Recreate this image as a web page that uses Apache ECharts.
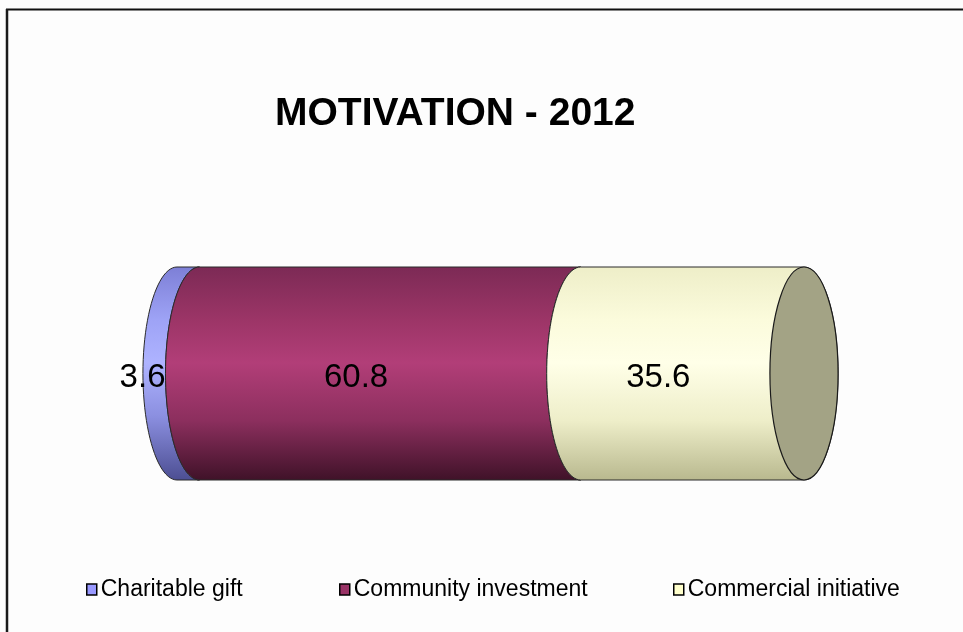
<!DOCTYPE html>
<html>
<head>
<meta charset="utf-8">
<script src="https://cdn.jsdelivr.net/npm/echarts@6/dist/echarts.min.js"></script>
<style>html,body{margin:0;padding:0;background:#fdfdfd;}#c{width:963px;height:632px;}</style>
</head>
<body>
<div id="c"></div>
<script>
const titleText = 'MOTIVATION - 2012';
const categories = ['2012'];
const seriesNames = ['Charitable gift', 'Community investment', 'Commercial initiative'];
const seriesValues = [3.6, 60.8, 35.6];

const baseColors = ['#9999FF', '#993366', '#FFFFCC'];
const gradients = [
  [['#7d7fd6',0],['#9ea3f6',0.25],['#aeb3ff',0.45],['#8b8fe0',0.7],['#4c4e92',1]],
  [['#7c2a55',0],['#9c3567',0.25],['#b23e78',0.45],['#8c2f5e',0.72],['#3f1228',1]],
  [['#eeeec8',0],['#fbfbdc',0.25],['#ffffe8',0.45],['#eeeec9',0.72],['#b8b88e',1]]
];
const capColor = '#a3a385';
const FONT = '"Liberation Sans", Arial, sans-serif';

// cumulative starts
const starts = [];
let acc = 0;
for (let i = 0; i < seriesValues.length; i++) { starts.push(acc); acc += seriesValues[i]; }
const total = acc;

function grad(stops) {
  return new echarts.graphic.LinearGradient(0, 0, 0, 1, stops.map(s => ({offset: s[1], color: s[0]})));
}

function makeRender(idx) {
  return function (params, api) {
    const s = api.value(0), e = api.value(1), c = api.value(2);
    const p0 = api.coord([s, c]);
    const p1 = api.coord([e, c]);
    const h = api.size([0, 1])[1];
    const b = h / 2;
    const a = h * 0.16;
    const cy = p0[1];
    const x0 = p0[0], x1 = p1[0];
    const isLast = idx === seriesValues.length - 1;
    const N = 48;
    const pts = [];
    for (let k = N; k >= 0; k--) {
      const t = Math.PI * k / N;
      pts.push([x0 - a * Math.sin(t), cy - b * Math.cos(t)]);
    }
    for (let k = 0; k <= N; k++) {
      const t = Math.PI * k / N;
      pts.push([x1 + (isLast ? 1 : -1) * a * Math.sin(t), cy - b * Math.cos(t)]);
    }
    const children = [{
      type: 'polygon',
      shape: {points: pts},
      style: {fill: grad(gradients[idx]), stroke: '#2a2a2a', lineWidth: 1}
    }];
    if (isLast) {
      children.push({
        type: 'ellipse',
        shape: {cx: x1, cy: cy, rx: a, ry: b},
        style: {fill: capColor, stroke: '#1a1a1a', lineWidth: 1.2}
      });
    }
    const val = seriesValues[idx];
    const segW = x1 - x0;
    let lx, align;
    if (segW < 60) { lx = x1 - a; align = 'right'; }
    else { lx = (x0 + x1) / 2 - a; align = 'center'; }
    children.push({
      type: 'text',
      style: {
        text: val.toFixed(1), x: lx, y: cy + 4,
        align: align, verticalAlign: 'middle',
        font: '33px ' + FONT, fill: '#000'
      },
      z2: 10
    });
    return {type: 'group', children: children};
  };
}

const series = seriesNames.map((name, i) => ({
  type: 'custom',
  name: name,
  renderItem: makeRender(i),
  encode: {x: [0, 1], y: 2},
  itemStyle: {color: baseColors[i]},
  data: [[starts[i], starts[i] + seriesValues[i], 0]],
  silent: true,
  clip: false
}));

const legendLefts = [86, 339, 673];
const legends = seriesNames.map((name, i) => ({
  data: [name],
  left: legendLefts[i],
  top: 578,
  icon: 'rect',
  itemWidth: 10,
  itemHeight: 11,
  itemGap: 0,
  padding: 0,
  selectedMode: false,
  itemStyle: {borderColor: '#000', borderWidth: 1.5},
  textStyle: {fontFamily: FONT, fontSize: 23, color: '#000', padding: [0, 0, 0, -1]}
}));

const chart = echarts.init(document.getElementById('c'), null, {renderer: 'canvas'});
chart.setOption({
  backgroundColor: '#fdfdfd',
  animation: false,
  title: {
    text: titleText,
    left: 275,
    top: 95,
    padding: 0,
    textStyle: {fontFamily: FONT, fontWeight: 'bold', fontSize: 39, color: '#000'}
  },
  legend: legends,
  grid: {left: 177, right: 159, top: 267, bottom: 152},
  xAxis: {type: 'value', min: 0, max: total, show: false},
  yAxis: {type: 'category', data: categories, show: false},
  series: series,
  graphic: [
    {type: 'line', shape: {x1: 6, y1: 9.5, x2: 963, y2: 9.5}, style: {stroke: '#111', lineWidth: 2}},
    {type: 'line', shape: {x1: 7, y1: 9, x2: 7, y2: 632}, style: {stroke: '#1a1a1a', lineWidth: 2.5}}
  ]
});
</script>
</body>
</html>
